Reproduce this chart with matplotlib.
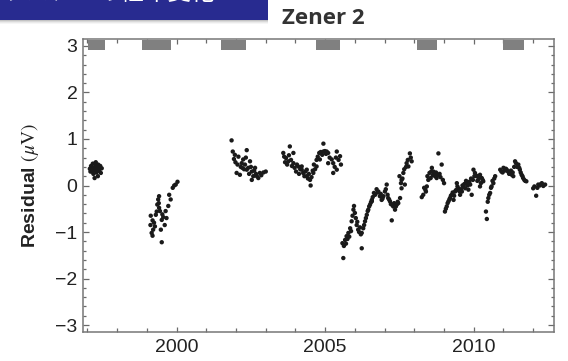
import matplotlib
matplotlib.use("Agg")
import matplotlib.pyplot as plt
import numpy as np
from matplotlib.patches import Rectangle
from matplotlib.ticker import FixedLocator, MultipleLocator

plt.rcParams["font.family"] = ["Liberation Sans", "DejaVu Sans"]
plt.rcParams["mathtext.fontset"] = "stix"

# residual readings (decimal year, microvolt), one list per measurement campaign
seg_1997 = [(1997.08, 0.36), (1997.10, 0.30), (1997.12, 0.42), (1997.15, 0.30), (1997.17, 0.38),
            (1997.18, 0.47), (1997.20, 0.25), (1997.22, 0.38), (1997.24, 0.16), (1997.25, 0.33),
            (1997.27, 0.44), (1997.28, 0.50), (1997.30, 0.28), (1997.32, 0.35), (1997.33, 0.40),
            (1997.35, 0.20), (1997.36, 0.45), (1997.38, 0.35), (1997.40, 0.31), (1997.42, 0.38),
            (1997.43, 0.42), (1997.45, 0.27), (1997.48, 0.37)]
seg_1999 = [(1999.12, -0.85), (1999.13, -0.65), (1999.16, -1.02), (1999.19, -0.75), (1999.19, -1.08),
            (1999.21, -0.95), (1999.24, -0.80), (1999.27, -0.88), (1999.30, -0.63), (1999.33, -0.56),
            (1999.35, -0.41), (1999.38, -0.30), (1999.40, -0.38), (1999.41, -0.23), (1999.41, -0.48),
            (1999.44, -0.55), (1999.47, -0.95), (1999.50, -0.74), (1999.50, -1.22), (1999.52, -0.62),
            (1999.55, -0.68), (1999.60, -0.85), (1999.63, -0.55), (1999.66, -0.70), (1999.72, -0.44),
            (1999.75, -0.20), (1999.80, -0.30), (1999.87, -0.05), (1999.92, 0.00), (1999.97, 0.02),
            (2000.03, 0.08)]
seg_2002 = [(2001.85, 0.97), (2001.89, 0.73), (2001.93, 0.57), (2001.96, 0.66), (2001.98, 0.50),
            (2002.02, 0.27), (2002.05, 0.45), (2002.08, 0.62), (2002.13, 0.23), (2002.16, 0.40),
            (2002.19, 0.48), (2002.21, 0.38), (2002.24, 0.56), (2002.27, 0.35), (2002.30, 0.45),
            (2002.33, 0.60), (2002.36, 0.76), (2002.36, 0.34), (2002.41, 0.38), (2002.44, 0.25),
            (2002.47, 0.52), (2002.50, 0.40), (2002.53, 0.30), (2002.53, 0.12), (2002.58, 0.20),
            (2002.61, 0.32), (2002.64, 0.38), (2002.67, 0.25), (2002.70, 0.20), (2002.75, 0.16),
            (2002.80, 0.27), (2002.85, 0.22), (2002.92, 0.28), (2003.00, 0.30)]
seg_2004 = [(2003.59, 0.70), (2003.62, 0.62), (2003.65, 0.50), (2003.68, 0.59), (2003.72, 0.45),
            (2003.76, 0.52), (2003.78, 0.65), (2003.81, 0.84), (2003.85, 0.55), (2003.88, 0.42),
            (2003.93, 0.70), (2003.93, 0.48), (2003.97, 0.38), (2004.02, 0.30), (2004.05, 0.45),
            (2004.09, 0.41), (2004.12, 0.25), (2004.16, 0.35), (2004.21, 0.41), (2004.21, 0.34),
            (2004.26, 0.27), (2004.30, 0.20), (2004.33, 0.30), (2004.38, 0.20), (2004.38, 0.34),
            (2004.42, 0.15), (2004.45, 0.25), (2004.49, 0.12), (2004.51, 0.00), (2004.54, 0.18),
            (2004.58, 0.32), (2004.60, 0.27), (2004.62, 0.45), (2004.66, 0.35), (2004.71, 0.41),
            (2004.71, 0.55), (2004.75, 0.62), (2004.80, 0.70), (2004.82, 0.56), (2004.85, 0.72),
            (2004.90, 0.66), (2004.94, 0.73), (2004.94, 0.90), (2004.99, 0.74), (2005.03, 0.68),
            (2005.05, 0.73), (2005.10, 0.70), (2005.10, 0.48), (2005.15, 0.60), (2005.22, 0.56),
            (2005.27, 0.48), (2005.27, 0.27), (2005.32, 0.40), (2005.36, 0.60), (2005.39, 0.73),
            (2005.39, 0.34), (2005.45, 0.55), (2005.50, 0.63), (2005.53, 0.45)]
seg_2006 = [(2005.58, -1.24), (2005.61, -1.56), (2005.63, -1.30), (2005.67, -1.17), (2005.70, -1.25),
            (2005.72, -1.09), (2005.75, -1.15), (2005.78, -1.02), (2005.81, -1.10), (2005.84, -0.92),
            (2005.87, -0.98), (2005.89, -0.77), (2005.92, -0.65), (2005.95, -0.52), (2005.97, -0.44),
            (2006.00, -0.59), (2006.03, -0.70), (2006.06, -0.85), (2006.08, -0.78), (2006.11, -0.95),
            (2006.14, -1.00), (2006.17, -0.90), (2006.20, -1.05), (2006.23, -1.35), (2006.23, -1.02),
            (2006.28, -0.92), (2006.31, -0.85), (2006.34, -0.77), (2006.37, -0.70), (2006.40, -0.63),
            (2006.43, -0.55), (2006.45, -0.52), (2006.48, -0.45), (2006.51, -0.41), (2006.54, -0.36),
            (2006.57, -0.31), (2006.57, -0.34), (2006.60, -0.25), (2006.64, -0.16), (2006.68, -0.20),
            (2006.73, -0.08), (2006.76, -0.15), (2006.79, -0.13), (2006.84, -0.23), (2006.87, -0.18),
            (2006.90, -0.31), (2006.93, -0.28), (2006.96, -0.23), (2007.01, -0.13), (2007.04, -0.08),
            (2007.07, 0.02), (2007.10, -0.20), (2007.12, -0.27), (2007.15, -0.30), (2007.18, -0.34),
            (2007.21, -0.40), (2007.24, -0.75), (2007.26, -0.42), (2007.29, -0.45), (2007.32, -0.38),
            (2007.35, -0.52), (2007.38, -0.45), (2007.41, -0.41), (2007.44, -0.35), (2007.46, -0.38),
            (2007.50, 0.20), (2007.52, -0.27), (2007.55, 0.05), (2007.57, -0.06), (2007.57, 0.12),
            (2007.60, 0.15), (2007.63, 0.27), (2007.66, 0.35), (2007.68, 0.02), (2007.72, 0.40),
            (2007.74, 0.48), (2007.78, 0.55), (2007.80, 0.41), (2007.85, 0.69), (2007.88, 0.60),
            (2007.91, 0.52)]
seg_2008 = [(2008.25, -0.25), (2008.30, -0.20), (2008.33, -0.05), (2008.37, -0.09), (2008.39, -0.13),
            (2008.42, -0.02), (2008.44, 0.20), (2008.47, 0.12), (2008.51, 0.27), (2008.55, 0.16),
            (2008.57, 0.30), (2008.59, 0.38), (2008.62, 0.22), (2008.64, 0.30), (2008.67, 0.25),
            (2008.70, 0.20), (2008.73, 0.28), (2008.75, 0.16), (2008.78, 0.22), (2008.81, 0.69),
            (2008.85, 0.25), (2008.88, 0.18), (2008.92, 0.45), (2008.96, 0.12), (2009.00, 0.05)]
seg_2010 = [(2009.03, -0.56), (2009.06, -0.50), (2009.09, -0.45), (2009.12, -0.38), (2009.15, -0.34),
            (2009.18, -0.30), (2009.20, -0.27), (2009.23, -0.22), (2009.26, -0.20), (2009.29, -0.15),
            (2009.32, -0.31), (2009.34, -0.22), (2009.37, -0.13), (2009.40, -0.10), (2009.43, 0.05),
            (2009.45, -0.02), (2009.48, -0.06), (2009.51, -0.12), (2009.54, -0.20), (2009.57, -0.08),
            (2009.60, -0.13), (2009.62, 0.00), (2009.65, -0.02), (2009.68, 0.03), (2009.71, -0.06),
            (2009.74, 0.10), (2009.76, 0.05), (2009.79, 0.00), (2009.82, -0.09), (2009.85, 0.08),
            (2009.88, 0.02), (2009.91, 0.15), (2009.93, -0.20), (2009.97, 0.12), (2009.99, 0.34),
            (2010.02, 0.20), (2010.04, 0.27), (2010.07, 0.22), (2010.10, 0.20), (2010.12, 0.10),
            (2010.15, 0.12), (2010.18, 0.18), (2010.21, 0.23), (2010.21, -0.02), (2010.24, 0.05),
            (2010.27, 0.16), (2010.30, 0.12), (2010.32, 0.09), (2010.41, -0.56), (2010.44, -0.72),
            (2010.47, -0.35), (2010.49, -0.27), (2010.52, -0.20), (2010.55, -0.16), (2010.58, -0.05),
            (2010.60, -0.02), (2010.63, 0.10), (2010.66, 0.05), (2010.69, 0.15), (2010.72, 0.20)]
seg_2011 = [(2010.89, 0.34), (2010.93, 0.30), (2010.97, 0.28), (2011.00, 0.38), (2011.04, 0.32),
            (2011.08, 0.36), (2011.11, 0.34), (2011.15, 0.30), (2011.19, 0.25), (2011.22, 0.27),
            (2011.25, 0.32), (2011.28, 0.23), (2011.31, 0.28), (2011.33, 0.20), (2011.36, 0.40),
            (2011.39, 0.52), (2011.42, 0.48), (2011.46, 0.40), (2011.50, 0.45), (2011.53, 0.38),
            (2011.55, 0.34), (2011.58, 0.28), (2011.61, 0.23), (2011.64, 0.20), (2011.66, 0.16),
            (2011.70, 0.12), (2011.73, 0.10), (2011.77, 0.09)]
seg_2012 = [(2012.00, -0.06), (2012.04, -0.02), (2012.10, -0.22), (2012.14, -0.05), (2012.17, 0.02),
            (2012.22, 0.00), (2012.26, 0.03), (2012.29, 0.05), (2012.34, -0.01), (2012.40, 0.02)]

# periods marked along the top of the frame (start, end)
periods = [(1997.02, 1997.58), (1998.83, 1999.81), (2001.50, 2002.32),
           (2004.70, 2005.50), (2008.10, 2008.75), (2011.00, 2011.70)]

x_major = [2000, 2005, 2010]
y_major = [-3, -2, -1, 0, 1, 2, 3]
title = "Zener 2"
banner = "ツェナーの経年変化"

pts = np.array(seg_1997 + seg_1999 + seg_2002 + seg_2004 + seg_2006
               + seg_2008 + seg_2010 + seg_2011 + seg_2012)

W, H = 568, 361
fig = plt.figure(figsize=(W / 100, H / 100), dpi=100)
ax = fig.add_axes([83 / W, 1 - 332 / H, (554 - 83) / W, (332 - 39) / H])

ax.broken_barh([(a, b - a) for a, b in periods], (2.92, 0.2),
               facecolors="#808080", edgecolors="none", zorder=2)
ax.scatter(pts[:, 0], pts[:, 1], s=10, c="#1a1a1a", edgecolors="none", zorder=3)

ax.set_xlim(1996.85, 2012.7)
ax.set_ylim(-3.15, 3.15)
ax.xaxis.set_major_locator(FixedLocator(x_major))
ax.xaxis.set_minor_locator(MultipleLocator(1))
ax.yaxis.set_major_locator(FixedLocator(y_major))
ax.yaxis.set_minor_locator(MultipleLocator(0.2))
ax.set_yticklabels(["\u22123", "\u22122", "\u22121", "0", "1", "2", "3"])

for s in ax.spines.values():
    s.set_color("#777777")
    s.set_linewidth(1.1)
ax.tick_params(which="both", direction="in", top=True, right=True,
               color="#6a6a6a", width=0.9, labelcolor="#222222", labelsize=14)
ax.tick_params(axis="x", which="major", length=3.5, pad=5)
ax.tick_params(axis="x", which="minor", length=3.0)
ax.tick_params(axis="y", which="major", length=4.0, pad=4)
ax.tick_params(axis="y", which="minor", length=2.0)

fig.text(30 / W, 1 - 185 / H, r"Residual $(\mu\mathrm{V})$", rotation=90,
         ha="center", va="center", fontsize=14, fontweight="bold", color="#222222")
fig.text(323 / W, 1 - 19 / H, title, ha="center", va="center",
         fontsize=16, fontweight="bold", family=["Open Sans", "DejaVu Sans"], color="#333333")

# slide header strip with its drop shadow
for i, a in enumerate([0.35, 0.22, 0.12, 0.05]):
    fig.patches.append(Rectangle((0, 1 - (21 + i) / H), 268 / W, 1 / H,
                                 transform=fig.transFigure, facecolor="#555555",
                                 alpha=a, edgecolor="none"))
fig.patches.append(Rectangle((0, 1 - 20 / H), 268 / W, 20 / H, transform=fig.transFigure,
                             facecolor="#282b90", edgecolor="none"))
fig.text(3 / W, 1.0, banner, ha="left", va="baseline", fontsize=17, color="white",
         family=["Noto Sans CJK JP", "DejaVu Sans"])

fig.savefig("out.png", dpi=100)
